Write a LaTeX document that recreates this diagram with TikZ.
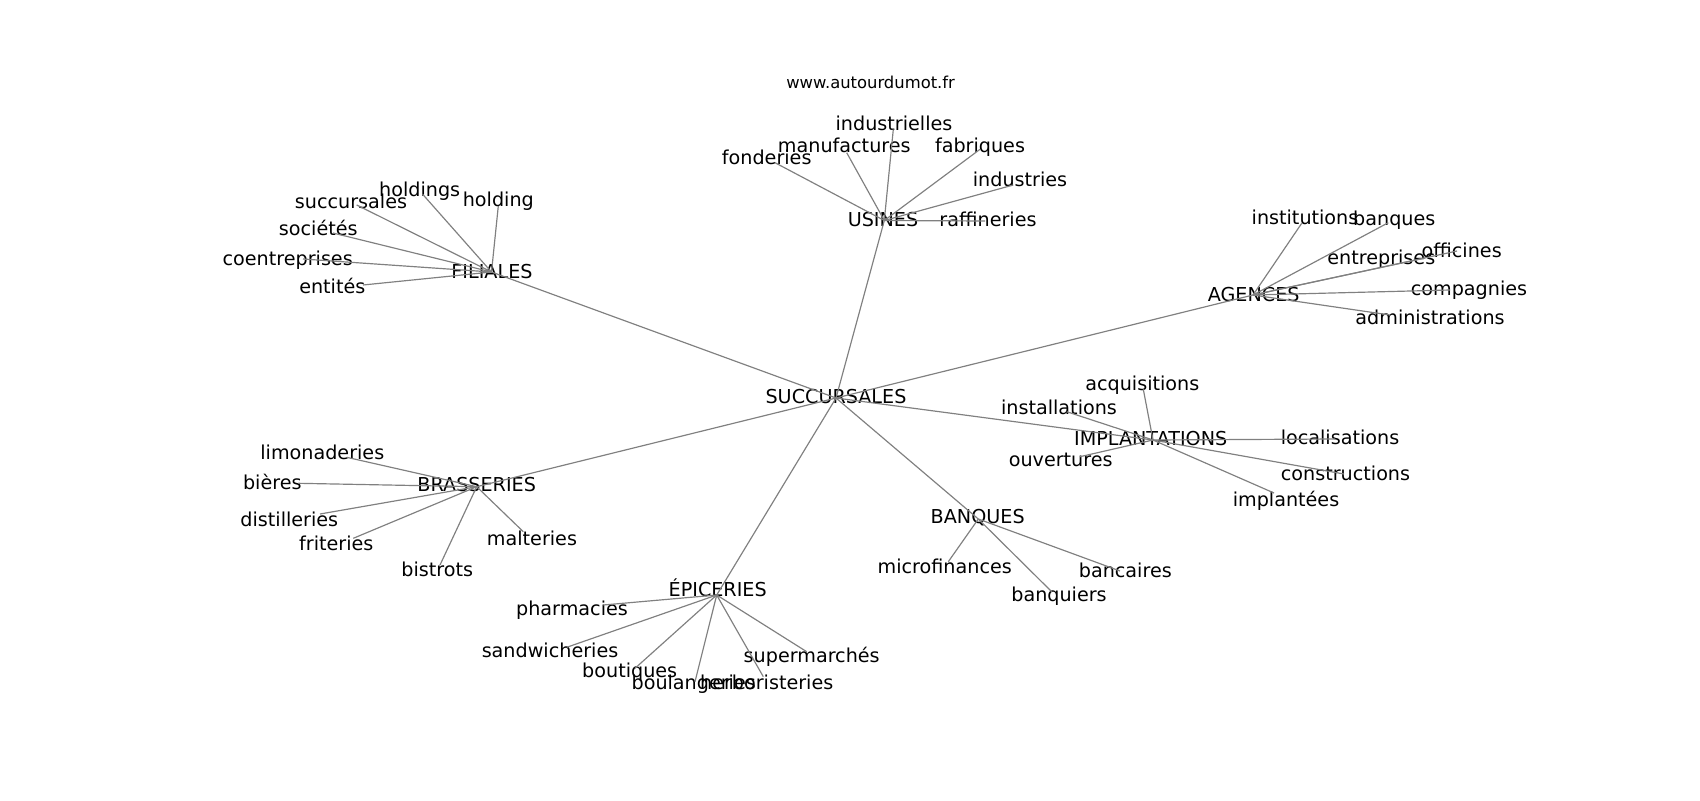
\documentclass[tikz,border=0pt]{standalone}
\usepackage{fontspec}
\setmainfont{DejaVu Sans}
\newcommand\mkpt[6]{%
  \coordinate (#1) at (#2,#3);
  \node[lbl] (#1-l) at (#4,#5) {#6};}
\begin{document}
\begin{tikzpicture}[x=0.72pt,y=-0.72pt,
  lbl/.style={inner sep=0pt,text height=10pt,text depth=0pt,font=\fontsize{13.8}{16}\selectfont},
  edge/.style={draw=black!50,line width=0.85pt}]
\useasboundingbox (0,0) rectangle (1700,800);
\node[inner sep=0pt,font=\fontsize{11.8}{14}\selectfont] (title) at (870.6,82.4) {www.autourdumot.fr};
% hubs
\mkpt{suc}{836}{398}{836}{397}{SUCCURSALES}
\mkpt{fil}{491.5}{272}{492}{272}{FILIALES}
\mkpt{usi}{884.3}{220.5}{883}{220}{USINES}
\mkpt{age}{1253}{295}{1253.7}{294.3}{AGENCES}
\mkpt{imp}{1153}{440}{1150.7}{438.3}{IMPLANTATIONS}
\mkpt{ban}{978.3}{519}{977.7}{516.7}{BANQUES}
\mkpt{epi}{716.7}{595}{717.7}{590}{ÉPICERIES}
\mkpt{bra}{476.7}{486.7}{476.7}{485}{BRASSERIES}
% FILIALES leaves
\mkpt{f1}{422.7}{194.3}{419.7}{189.5}{holdings}
\mkpt{f2}{498.3}{206}{498.3}{200}{holding}
\mkpt{f3}{356.7}{205}{351}{201.7}{succursales}
\mkpt{f4}{333}{233}{318.3}{229}{sociétés}
\mkpt{f5}{303}{259}{287.7}{258.3}{coentreprises}
\mkpt{f6}{363}{285}{332.3}{287}{entités}
% USINES leaves
\mkpt{u1}{775}{162.7}{766.7}{157.5}{fonderies}
\mkpt{u2}{846.7}{152.7}{844.3}{146}{manufactures}
\mkpt{u3}{893.3}{129.3}{894}{123.3}{industrielles}
\mkpt{u4}{980}{149.3}{980}{146}{fabriques}
\mkpt{u5}{1013.3}{185}{1020}{179.5}{industries}
\mkpt{u6}{985}{221}{988}{220}{raffineries}
% AGENCES leaves
\mkpt{a1}{1301.7}{223.3}{1305}{217.7}{institutions}
\mkpt{a2}{1388.3}{222.7}{1394.3}{218.3}{banques}
\mkpt{a3}{1425}{258}{1381.3}{257.3}{entreprises}
\mkpt{a4}{1457}{251}{1461.7}{250.7}{officines}
\mkpt{a5}{1450}{290}{1469}{288.3}{compagnies}
\mkpt{a6}{1390}{315}{1430}{317.3}{administrations}
% IMPLANTATIONS leaves
\mkpt{i1}{1143.3}{389.3}{1142.3}{383.3}{acquisitions}
\mkpt{i2}{1066.7}{411.7}{1059}{407.3}{installations}
\mkpt{i3}{1080}{456.7}{1060.7}{460}{ouvertures}
\mkpt{i4}{1335}{439}{1340}{438}{localisations}
\mkpt{i5}{1344}{474}{1345.5}{474}{constructions}
\mkpt{i6}{1274}{493}{1286}{500}{implantées}
% BANQUES leaves
\mkpt{b1}{948.3}{561.7}{944.7}{566.7}{microfinances}
\mkpt{b2}{1120}{571}{1125.3}{571}{bancaires}
\mkpt{b3}{1051.7}{591.7}{1059}{594.3}{banquiers}
% EPICERIES leaves
\mkpt{e1}{603.3}{605}{572}{608.3}{pharmacies}
\mkpt{e2}{566.7}{647.3}{550}{651}{sandwicheries}
\mkpt{e3}{635}{668.3}{629.7}{670.7}{boutiques}
\mkpt{e4}{695}{681.7}{693.7}{683}{boulangeries}
\mkpt{e5}{763.3}{676.7}{766.7}{683}{herboristeries}
\mkpt{e6}{806.7}{651.7}{811.7}{656}{supermarchés}
% BRASSERIES leaves
\mkpt{r1}{346.7}{457.3}{322.3}{452.7}{limonaderies}
\mkpt{r2}{298.3}{483.3}{272.3}{482.7}{bières}
\mkpt{r3}{320}{514}{289.3}{519.3}{distilleries}
\mkpt{r4}{353.3}{538.3}{336.3}{543.3}{friteries}
\mkpt{r5}{440}{565}{437.3}{570}{bistrots}
\mkpt{r6}{523.3}{531.7}{532}{539}{malteries}
% edges
\foreach \h in {fil,usi,age,imp,ban,epi,bra}{\draw[edge] (suc) -- (\h);}
\foreach \l in {f1,f2,f3,f4,f5,f6}{\draw[edge] (fil) -- (\l);}
\foreach \l in {u1,u2,u3,u4,u5,u6}{\draw[edge] (usi) -- (\l);}
\foreach \l in {a1,a2,a3,a4,a5,a6}{\draw[edge] (age) -- (\l);}
\foreach \l in {i1,i2,i3,i4,i5,i6}{\draw[edge] (imp) -- (\l);}
\foreach \l in {b1,b2,b3}{\draw[edge] (ban) -- (\l);}
\foreach \l in {e1,e2,e3,e4,e5,e6}{\draw[edge] (epi) -- (\l);}
\foreach \l in {r1,r2,r3,r4,r5,r6}{\draw[edge] (bra) -- (\l);}
\end{tikzpicture}
\end{document}
